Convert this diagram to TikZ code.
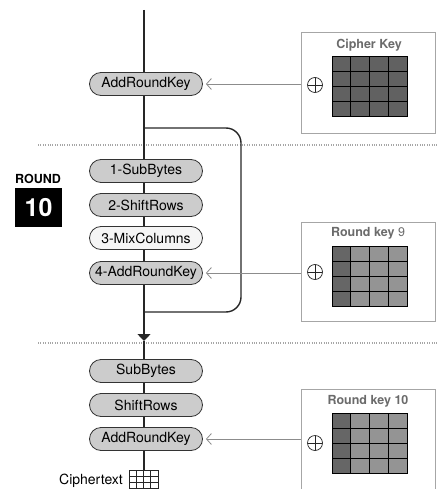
\documentclass[tikz,border=0pt]{standalone}
\usepackage{fontspec}
\setmainfont{TeX Gyre Heros}
\usetikzlibrary{arrows.meta}

\tikzset{
  pill/.style={draw=black!80, line width=0.8pt, fill=black!20, rounded corners=11.5pt, minimum width=113pt,
    minimum height=23pt, inner sep=0pt, font=\fontsize{14}{16}\selectfont},
  pillwhite/.style={pill, fill=black!4},
  keybox/.style={draw=black!35, line width=0.8pt, minimum width=134pt, inner sep=0pt},
  keytitle/.style={text=black!58, font=\bfseries\fontsize{12.5}{14}\selectfont},
  xorsym/.style={circle, draw=black!85, line width=0.7pt, minimum size=15pt, inner sep=0pt,
    path picture={\draw[black!85, line width=0.7pt] (path picture bounding box.north) -- (path picture bounding box.south)
      (path picture bounding box.west) -- (path picture bounding box.east);}},
  keyarrow/.style={draw=black!45, line width=0.8pt, -{Straight Barb[length=5pt,width=11pt]}, shorten >=3pt},
  sepline/.style={draw=black!35, line width=1.3pt, dash pattern=on 0.8pt off 1.6pt},
  flow/.style={draw=black!85, line width=1.4pt}
}

% 4x4 key matrix: x, y of top left corner, colour of first column, colour of the rest
\newcommand{\keygrid}[4]{%
  \foreach \c in {0,...,3}{\foreach \r in {0,...,3}{%
    \ifnum\c=0 \def\cellcol{#3}\else\def\cellcol{#4}\fi
    \filldraw[fill=\cellcol, draw=black, line width=0.8pt] ({#1+\c*18.75},{#2+\r*15}) rectangle ++(18.75,15);}}}

\begin{document}
\begin{tikzpicture}[x=1pt, y=-1pt]
      \useasboundingbox (0,0) rectangle (438,489);
      \coordinate (in) at (144,10);
      \coordinate (loopstart) at (144,128);
      \coordinate (loopcorner) at (241,312);
      \coordinate (loopend) at (144,312);
      \coordinate (merge) at (144,341);
      \coordinate (out) at (144,470);
      % round separators
      \draw[sepline] (38,145) -- (438,145);
      \draw[sepline] (38,343) -- (438,343);
      % main data path and the loop
      \draw[flow, -{Triangle[length=7pt,width=13pt]}] (in) -- (merge);
      \draw[flow] (merge) -- (out);
      \draw[flow, rounded corners=15pt] (loopstart) -| (loopcorner) -- (loopend);
      % steps
      \node[pill] (ark0) at (146,84) {AddRoundKey};
      \node[pill] (sb1) at (146,171) {1-SubBytes};
      \node[pill] (sr1) at (146,205) {2-ShiftRows};
      \node[pillwhite] (mc1) at (146,238) {3-MixColumns};
      \node[pill] (ark1) at (146,273) {4-AddRoundKey};
      \node[pill] (sb2) at (146,371) {SubBytes};
      \node[pill] (sr2) at (146,405) {ShiftRows};
      \node[pill] (ark2) at (146,439) {AddRoundKey};
      % round label
      \node[font=\bfseries\fontsize{12.5}{14}\selectfont] (roundlbl) at (38,179) {ROUND};
      \node[fill=black, text=white, minimum width=47pt, minimum height=39pt, inner sep=0pt,
        font=\bfseries\fontsize{25}{27}\selectfont] (roundnum) at (38.5,207.5) {10};
      % keys
      \node[keybox, minimum height=101pt] (ckbox) at (368,82.5) {};
      \node[keytitle] (cktitle) at (369,45) {Cipher Key};
      \keygrid{332}{56}{black!62}{black!62}
      \node[xorsym] (x0) at (315,85) {};
      \node[keybox, minimum height=99pt] (rk9box) at (368,271.5) {};
      \node[keytitle] (rk9title) at (368,233) {Round key {\mdseries 9}};
      \keygrid{332}{246}{black!60}{black!42}
      \node[xorsym] (x1) at (315,272) {};
      \draw[black!35, line width=0.8pt] (301,489) -- (301,389) -- (435,389) -- (435,489);
      \node[keytitle] (rk10title) at (368,401) {Round key 10};
      \keygrid{332}{413}{black!60}{black!42}
      \node[xorsym] (x2) at (315,443) {};
      \draw[keyarrow] (ckbox.west |- ark0) -- (ark0.east);
      \draw[keyarrow] (rk9box.west |- ark1) -- (ark1.east);
      \draw[keyarrow] (301,439) coordinate (rk10in) -- (ark2.east);
      % ciphertext
      \node[font=\fontsize{14}{16}\selectfont] (ctext) at (91,481) {Ciphertext};
      \foreach \i in {0,...,4} \draw[black!85, line width=0.7pt] ({129+\i*7.25},470) -- ({129+\i*7.25},489);
      \foreach \j in {0,...,3} \draw[black!85, line width=0.7pt] (129,{470+\j*6}) -- (158,{470+\j*6});
\end{tikzpicture}
\end{document}
